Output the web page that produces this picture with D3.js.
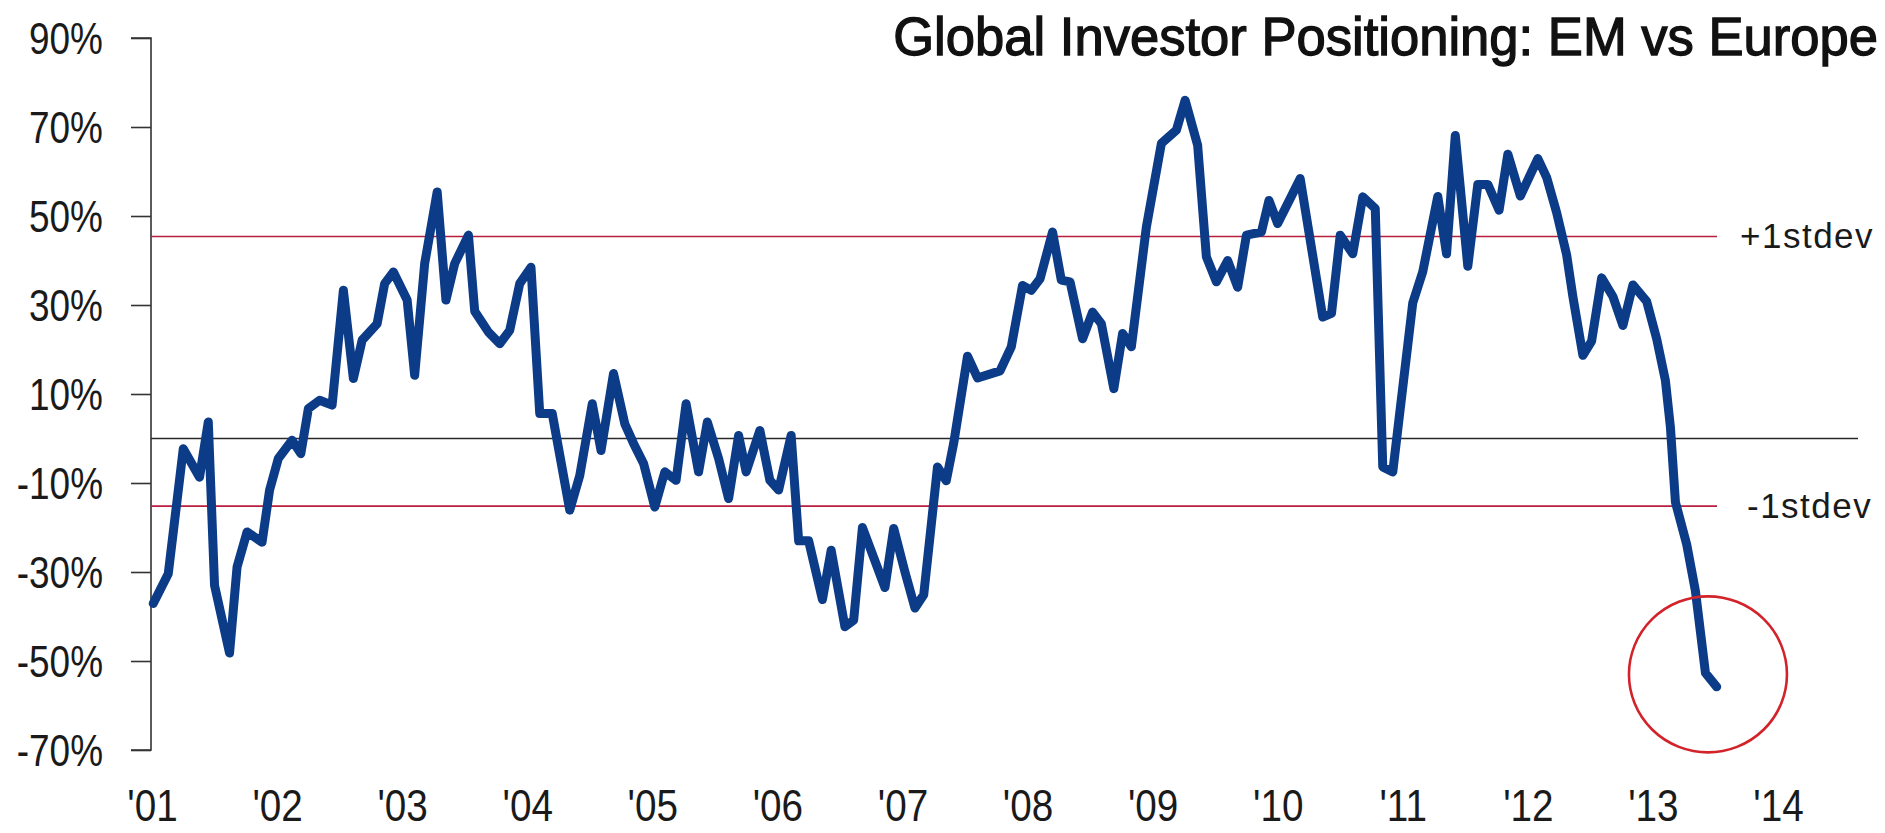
<!DOCTYPE html>
<html>
<head>
<meta charset="utf-8">
<script src="https://cdn.jsdelivr.net/npm/d3@7"></script>
<style>
  html, body { margin: 0; padding: 0; background: #ffffff; }
  svg { display: block; }
</style>
</head>
<body>
<svg id="chart" width="1885" height="833"></svg>
<script>
// ---- data ----
const times = [
  2001.01, 2001.13, 2001.25, 2001.38, 2001.45, 2001.50, 2001.62, 2001.68, 2001.76, 2001.88, 2001.94,
  2002.01, 2002.12, 2002.19, 2002.25, 2002.34, 2002.44, 2002.53, 2002.61, 2002.68, 2002.80, 2002.86, 2002.93,
  2003.04, 2003.10, 2003.18, 2003.28, 2003.35, 2003.42, 2003.53, 2003.58, 2003.69, 2003.78, 2003.86, 2003.94,
  2004.03, 2004.10, 2004.20, 2004.34, 2004.42, 2004.52, 2004.59, 2004.69, 2004.78, 2004.85, 2004.93,
  2005.02, 2005.10, 2005.19, 2005.27, 2005.37, 2005.44, 2005.53, 2005.61, 2005.69, 2005.75, 2005.86, 2005.94,
  2006.01, 2006.11, 2006.17, 2006.25, 2006.36, 2006.43, 2006.54, 2006.61, 2006.68, 2006.86, 2006.93,
  2007.02, 2007.10, 2007.17, 2007.28, 2007.35, 2007.41, 2007.52, 2007.60, 2007.78, 2007.87, 2007.96,
  2008.03, 2008.10, 2008.20, 2008.27, 2008.34, 2008.44, 2008.52, 2008.59, 2008.69, 2008.76, 2008.83, 2008.95,
  2009.07, 2009.19, 2009.26, 2009.36, 2009.43, 2009.51, 2009.60, 2009.68, 2009.75, 2009.87, 2009.93,
  2010.00, 2010.18, 2010.36, 2010.43, 2010.50, 2010.60, 2010.68, 2010.78, 2010.84, 2010.92,
  2011.08, 2011.16, 2011.28, 2011.35, 2011.42, 2011.52, 2011.60, 2011.68, 2011.77, 2011.84, 2011.94,
  2012.08, 2012.15, 2012.23, 2012.31, 2012.36, 2012.44, 2012.51, 2012.59, 2012.68, 2012.76, 2012.84, 2012.95,
  2013.03, 2013.10, 2013.14, 2013.18, 2013.27, 2013.34, 2013.42, 2013.51
];
const positioning = [
  -37.1, -30.4, -2.3, -8.7, 3.7, -33.0, -48.2, -28.9, -21.0, -23.3, -11.6,
  -4.5, -0.4, -3.4, 6.7, 8.6, 7.5, 33.3, 13.5, 22.1, 25.8, 34.8, 37.4,
  31.1, 14.2, 39.3, 55.4, 31.1, 39.3, 45.7, 28.6, 23.9, 21.3, 24.3, 34.8,
  38.5, 5.6, 5.6, -16.1, -8.3, 7.8, -2.7, 14.6, 3.3, -1.1, -5.6,
  -15.4, -7.5, -9.4, 7.8, -7.5, 3.7, -4.5, -13.5, 0.7, -7.5, 1.8, -9.4,
  -11.6, 0.7, -23.0, -23.0, -36.2, -25.1, -42.3, -40.8, -20.0, -33.5, -20.2,
  -30.0, -38.1, -35.1, -6.4, -9.5, -1.0, 18.5, 13.6, 15.2, 20.6, 34.4,
  33.3, 35.9, 46.4, 35.6, 35.2, 22.4, 28.4, 25.8, 11.2, 23.6, 20.6, 47.5,
  66.3, 69.3, 76.0, 65.9, 40.8, 35.2, 40.0, 34.0, 45.7, 46.4, 53.5,
  48.3, 58.4, 27.3, 28.1, 45.7, 41.5, 54.3, 51.7, -6.4, -7.5,
  30.5, 37.5, 54.4, 41.5, 68.1, 38.7, 57.1, 57.1, 51.3, 63.9, 54.5,
  62.9, 58.7, 50.8, 41.3, 31.9, 18.7, 21.9, 36.1, 31.9, 25.4, 34.5, 30.8,
  22.4, 13.0, 2.5, -14.3, -23.8, -34.3, -52.7, -55.8
];
const yTickValues = [-70, -50, -30, -10, 10, 30, 50, 70, 90];
const yearTicks = [2001, 2002, 2003, 2004, 2005, 2006, 2007, 2008, 2009, 2010, 2011, 2012, 2013, 2014];
const yearLabels = ["'01", "'02", "'03", "'04", "'05", "'06", "'07", "'08", "'09", "'10", "'11", "'12", "'13", "'14"];
const stdevValues = [45.4, -15.2];
const stdevLabels = ["+1stdev", "-1stdev"];
const zeroValue = [0];
const highlight = [{ t: 2013.44, v: -53.0 }];
const titleText = "Global Investor Positioning: EM vs Europe";

// ---- drawing ----
const svg = d3.select("#chart");
const sans = "'Liberation Sans', Arial, sans-serif";

// condense a text element horizontally (emulates a narrow face)
function condense(sel, ratio) {
  sel.each(function () {
    const w = this.getComputedTextLength();
    d3.select(this).attr("textLength", (w * ratio).toFixed(1)).attr("lengthAdjust", "spacingAndGlyphs");
  });
}

const x = d3.scaleLinear().domain([2001, 2014]).range([152, 1778]);
const y = d3.scaleLinear().domain([-70, 90]).range([750, 38]);
const axisX = 151;

// y axis
const yAxis = d3.axisLeft(y)
  .tickValues(yTickValues)
  .tickFormat(d => d + "%")
  .tickSize(20)
  .tickPadding(28);
const gy = svg.append("g").attr("transform", `translate(${axisX},0)`).call(yAxis);
gy.select(".domain").attr("d", `M-20,${y(90)}H0V${y(-70)}H-20`).attr("stroke", "#333").attr("stroke-width", 1.6).attr("fill", "none");
gy.selectAll(".tick line").attr("stroke", "#333").attr("stroke-width", 1.6);
gy.selectAll(".tick text")
  .attr("font-family", sans)
  .attr("font-size", 44)
  .attr("fill", "#1a1a1a")
  .attr("dy", "0.36em")
  .call(condense, 0.84);

// x axis (labels only)
const xAxis = d3.axisBottom(x)
  .tickValues(yearTicks)
  .tickFormat((d, i) => yearLabels[i])
  .tickSize(0)
  .tickPadding(0);
const gx = svg.append("g").attr("transform", "translate(0,821)").call(xAxis);
gx.select(".domain").remove();
gx.selectAll(".tick text")
  .attr("font-family", sans)
  .attr("font-size", 45)
  .attr("fill", "#1a1a1a")
  .attr("y", 0)
  .attr("dy", 0)
  .call(condense, 0.86);

// zero line
svg.selectAll(".zero").data(zeroValue).enter().append("line")
  .attr("x1", axisX).attr("x2", 1858)
  .attr("y1", d => y(d)).attr("y2", d => y(d))
  .attr("stroke", "#2a2a2a").attr("stroke-width", 1.6);

// stdev lines
svg.selectAll(".sd").data(stdevValues).enter().append("line")
  .attr("x1", axisX).attr("x2", 1717)
  .attr("y1", d => y(d)).attr("y2", d => y(d))
  .attr("stroke", "#b81f3f").attr("stroke-width", 1.6);

svg.selectAll(".sdlabel").data(stdevValues).enter().append("text")
  .attr("x", (d, i) => i === 0 ? 1740 : 1747)
  .attr("y", d => y(d) + 12)
  .attr("font-family", sans)
  .attr("font-size", 35)
  .attr("letter-spacing", 1.5)
  .attr("fill", "#1a1a1a")
  .text((d, i) => stdevLabels[i]);

// series line
const line = d3.line().x(d => x(d[0])).y(d => y(d[1])).curve(d3.curveLinear);
svg.append("path")
  .datum(times.map((t, i) => [t, positioning[i]]))
  .attr("d", line)
  .attr("fill", "none")
  .attr("stroke", "#0c3b87")
  .attr("stroke-width", 9)
  .attr("stroke-linejoin", "round")
  .attr("stroke-linecap", "round");

// highlight ellipse
svg.selectAll(".hl").data(highlight).enter().append("ellipse")
  .attr("cx", d => x(d.t)).attr("cy", d => y(d.v))
  .attr("rx", 79).attr("ry", 78)
  .attr("fill", "none").attr("stroke", "#d2232a").attr("stroke-width", 2.6);

// title (horizontally condensed with a scale transform)
const title = svg.append("text")
  .attr("x", 0).attr("y", 0)
  .attr("text-anchor", "end")
  .attr("font-family", sans)
  .attr("font-size", 53)
  .attr("fill", "#111")
  .attr("stroke", "#111")
  .attr("stroke-width", 1.3)
  .text(titleText);
const tw = title.node().getComputedTextLength();
const sx = 985 / tw;
title.attr("transform", `translate(1878,55) scale(${sx.toFixed(4)},1)`);
</script>
</body>
</html>
